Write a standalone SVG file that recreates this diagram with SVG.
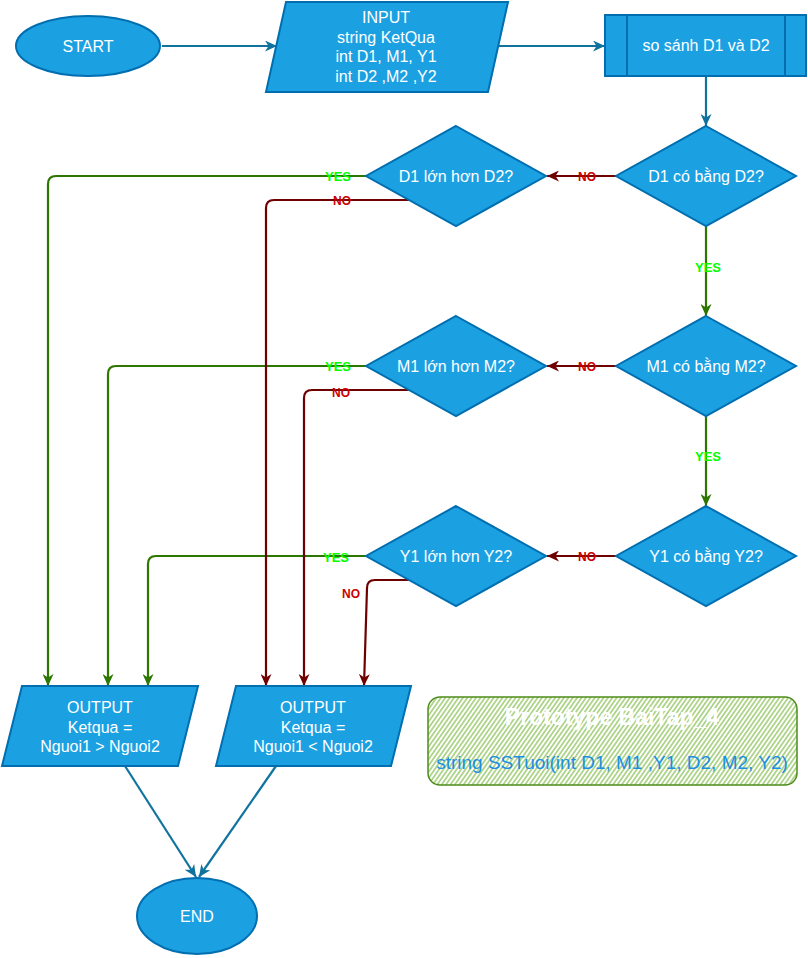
<svg xmlns="http://www.w3.org/2000/svg" width="808" height="958" viewBox="0 0 808 958">
<style>
.n{fill:#1ba1e2;stroke:#006eaf;stroke-width:2}
.t{font-family:"Liberation Sans",Arial,sans-serif;font-size:16px;fill:#ffffff;text-anchor:middle}
.c{fill:none;stroke-width:2.2}
.b{stroke:#10739e}
.g{stroke:#2d7600}
.r{stroke:#6f0000}
.ly{font-family:"Liberation Sans",Arial,sans-serif;font-size:13px;font-weight:bold;fill:#00ff00;text-anchor:middle}
.ln{font-family:"Liberation Sans",Arial,sans-serif;font-size:12px;font-weight:bold;fill:#cc0000;text-anchor:middle}
</style>
<defs>
<marker id="ab" markerUnits="userSpaceOnUse" markerWidth="13" markerHeight="11" refX="12" refY="5.5" orient="auto"><path d="M0,0 L12,5.5 L0,11 L3.5,5.5 Z" fill="#10739e"/></marker>
<marker id="ag" markerUnits="userSpaceOnUse" markerWidth="13" markerHeight="11" refX="12" refY="5.5" orient="auto"><path d="M0,0 L12,5.5 L0,11 L3.5,5.5 Z" fill="#2d7600"/></marker>
<marker id="ar" markerUnits="userSpaceOnUse" markerWidth="13" markerHeight="11" refX="12" refY="5.5" orient="auto"><path d="M0,0 L12,5.5 L0,11 L3.5,5.5 Z" fill="#6f0000"/></marker>
<pattern id="hatch" patternUnits="userSpaceOnUse" width="3.6" height="10" patternTransform="rotate(35)"><line x1="1.8" y1="0" x2="1.8" y2="10" stroke="#7ab840" stroke-width="1.1"/></pattern>
</defs>

<g id="connectors">
<path class="c b" d="M162,46 H277" marker-end="url(#ab)"/>
<path class="c b" d="M498,46 H605" marker-end="url(#ab)"/>
<path class="c b" d="M706,76 V126" marker-end="url(#ab)"/>
<path class="c r" d="M616,176 H547" marker-end="url(#ar)"/>
<path class="c r" d="M616,366 H547" marker-end="url(#ar)"/>
<path class="c r" d="M616,556 H547" marker-end="url(#ar)"/>
<path class="c g" d="M706,226 V316" marker-end="url(#ag)"/>
<path class="c g" d="M706,416 V506" marker-end="url(#ag)"/>
<path class="c g" d="M366,176 H56 Q48,176 48,184 V686" marker-end="url(#ag)"/>
<path class="c g" d="M366,366 H116 Q108,366 108,374 V686" marker-end="url(#ag)"/>
<path class="c g" d="M366,556 H156 Q148,556 148,564 V686" marker-end="url(#ag)"/>
<path class="c r" d="M411,200 H274 Q266,200 266,208 V686" marker-end="url(#ar)"/>
<path class="c r" d="M411,390 H312 Q304,390 304,398 V686" marker-end="url(#ar)"/>
<path class="c r" d="M411,580 H375 Q367,580 367,588 L364,686" marker-end="url(#ar)"/>
<path class="c b" d="M125,766 L196,877" marker-end="url(#ab)"/>
<path class="c b" d="M276,766 L199,877" marker-end="url(#ab)"/>
<text class="ln" x="587" y="181">NO</text>
<text class="ln" x="587" y="371">NO</text>
<text class="ln" x="587" y="561">NO</text>
<text class="ly" x="708" y="272">YES</text>
<text class="ly" x="708" y="461">YES</text>
<text class="ly" x="338" y="181">YES</text>
<text class="ly" x="338" y="371">YES</text>
<text class="ly" x="336" y="562">YES</text>
<text class="ln" x="342" y="205">NO</text>
<text class="ln" x="341" y="397">NO</text>
<text class="ln" x="351" y="598">NO</text>
</g>

<g id="start"><ellipse class="n" cx="88" cy="46" rx="72" ry="30"/><text class="t" x="88" y="51.5">START</text></g>

<g id="input"><polygon class="n" points="286,2 508,2 488,92 266,92"/>
<text class="t" x="386" y="23">INPUT</text><text class="t" x="386" y="42.5">string KetQua</text><text class="t" x="386" y="62">int D1, M1, Y1</text><text class="t" x="386" y="81.5">int D2 ,M2 ,Y2</text></g>

<g id="process"><rect class="n" x="605" y="15" width="201" height="61"/><line x1="627" y1="15" x2="627" y2="76" stroke="#006eaf" stroke-width="2"/><line x1="785" y1="15" x2="785" y2="76" stroke="#006eaf" stroke-width="2"/><text class="t" x="706" y="51">so sánh D1 và D2</text></g>

<g id="d1eq"><polygon class="n" points="706,126 796,176 706,226 616,176"/><text class="t" x="706" y="181.5">D1 có bằng D2?</text></g>
<g id="d1gt"><polygon class="n" points="456,126 546,176 456,226 366,176"/><text class="t" x="456" y="181.5">D1 lớn hơn D2?</text></g>
<g id="m1eq"><polygon class="n" points="706,316 796,366 706,416 616,366"/><text class="t" x="706" y="371.5">M1 có bằng M2?</text></g>
<g id="m1gt"><polygon class="n" points="456,316 546,366 456,416 366,366"/><text class="t" x="456" y="371.5">M1 lớn hơn M2?</text></g>
<g id="y1eq"><polygon class="n" points="706,506 796,556 706,606 616,556"/><text class="t" x="706" y="561.5">Y1 có bằng Y2?</text></g>
<g id="y1gt"><polygon class="n" points="456,506 546,556 456,606 366,556"/><text class="t" x="456" y="561.5">Y1 lớn hơn Y2?</text></g>

<g id="out1"><polygon class="n" points="22,686 198,686 178,766 2,766"/><text class="t" x="100" y="713">OUTPUT</text><text class="t" x="100" y="733">Ketqua =</text><text class="t" x="100" y="752">Nguoi1 &gt; Nguoi2</text></g>
<g id="out2"><polygon class="n" points="236,686 411,686 391,766 216,766"/><text class="t" x="313" y="713">OUTPUT</text><text class="t" x="313" y="733">Ketqua =</text><text class="t" x="313" y="752">Nguoi1 &lt; Nguoi2</text></g>

<g id="end"><ellipse class="n" cx="197" cy="916" rx="60" ry="38"/><text class="t" x="197" y="921.5">END</text></g>

<g id="prototype"><rect x="428" y="697" width="369" height="88" rx="12" fill="url(#hatch)" stroke="#4d8c1a" stroke-width="1.5"/>
<text x="612" y="725" font-family="'Liberation Sans',Arial,sans-serif" font-size="23" font-weight="bold" fill="#ffffff" text-anchor="middle">Prototype BaiTap_4</text>
<text x="612" y="769" font-family="'Liberation Sans',Arial,sans-serif" font-size="19" fill="#1c8fe0" text-anchor="middle">string SSTuoi(int D1, M1 ,Y1, D2, M2, Y2)</text></g>
</svg>
